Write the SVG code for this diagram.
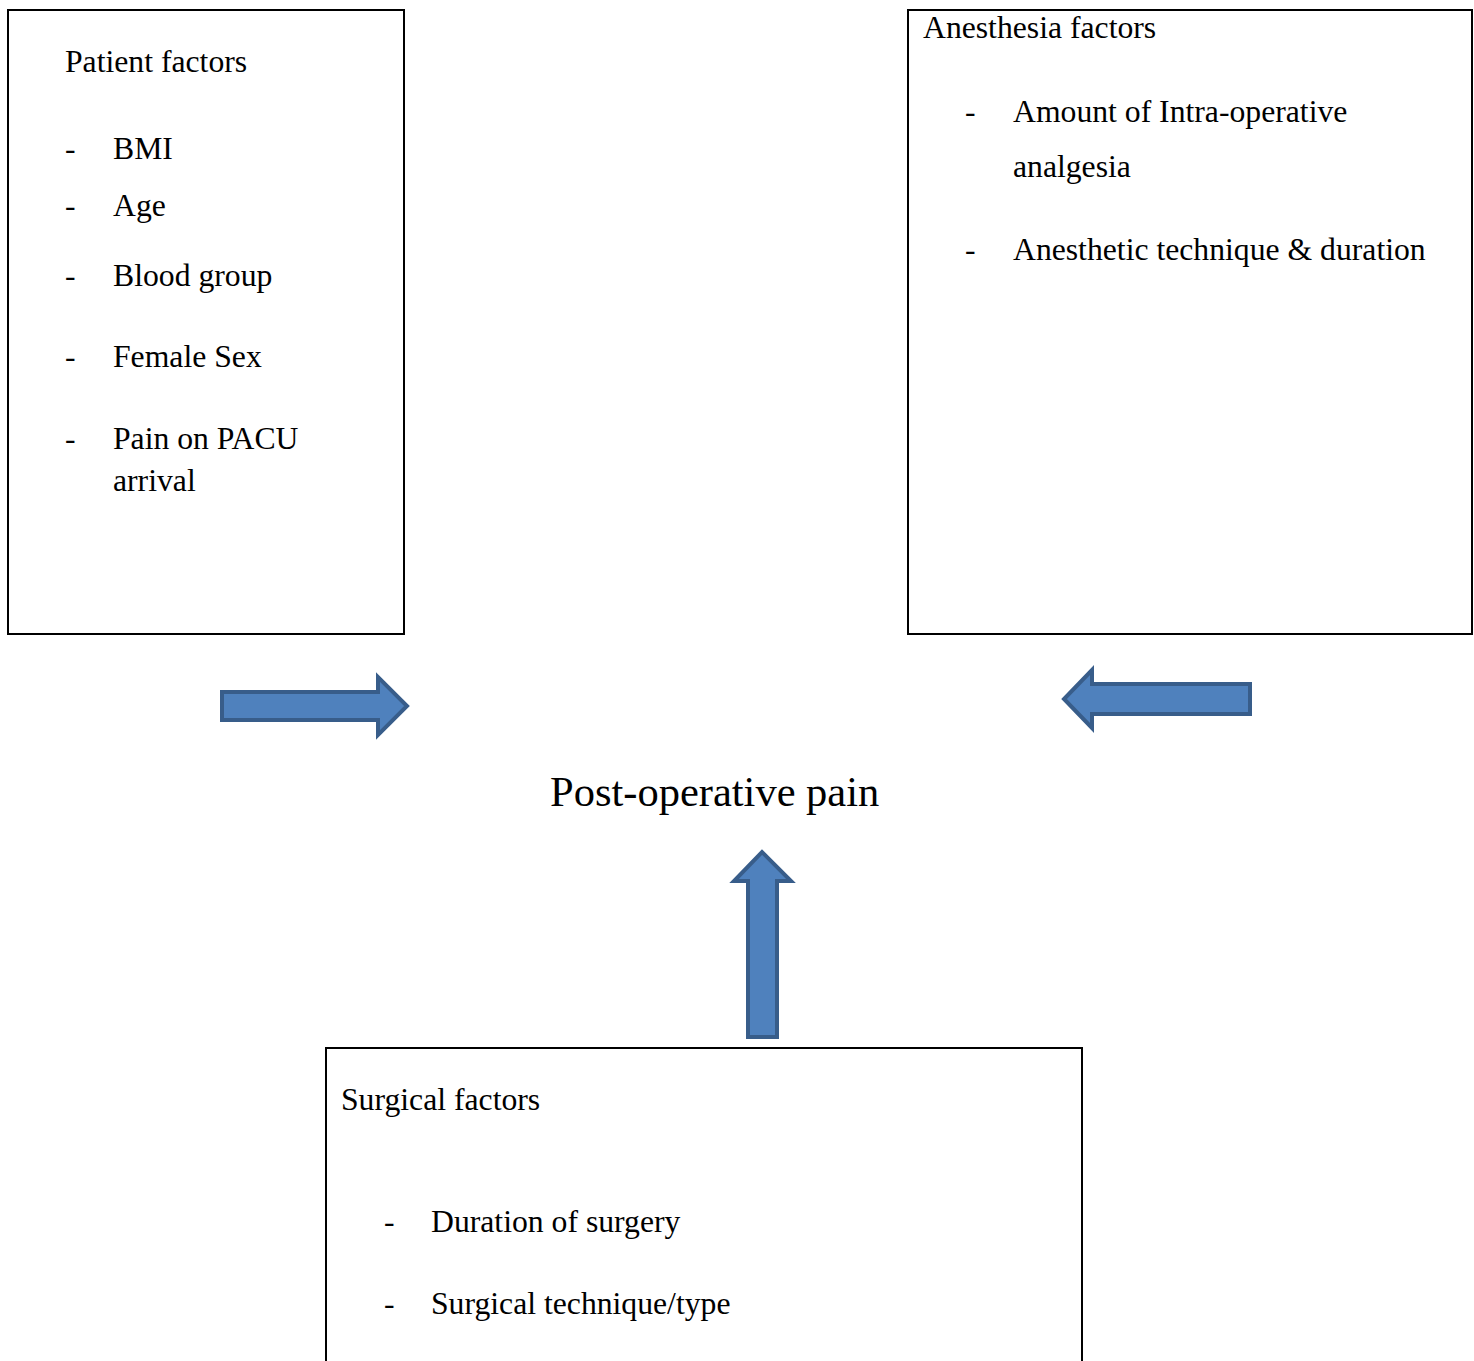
<svg xmlns="http://www.w3.org/2000/svg" width="1474" height="1361" viewBox="0 0 1474 1361">
<style>
.box{fill:#fff;stroke:#000;stroke-width:2}
text{font-family:"Liberation Serif","Times New Roman",serif;font-size:31.7px;fill:#000}
.big{font-size:42.5px}
.arr{fill:#4F81BD;stroke:#385D8A;stroke-width:4;stroke-linejoin:miter}
</style>
<rect width="1474" height="1361" fill="#fff"/>
<g id="patient">
<rect class="box" x="8" y="10" width="396" height="624"/>
<text x="65" y="72">Patient factors</text>
<text x="65" y="159">-</text><text x="113" y="159">BMI</text>
<text x="65" y="216">-</text><text x="113" y="216">Age</text>
<text x="65" y="286">-</text><text x="113" y="286">Blood group</text>
<text x="65" y="367">-</text><text x="113" y="367">Female Sex</text>
<text x="65" y="449">-</text><text x="113" y="449">Pain on PACU</text>
<text x="113" y="491">arrival</text>
</g>
<g id="anesthesia">
<rect class="box" x="908" y="10" width="564" height="624"/>
<text x="923" y="38">Anesthesia factors</text>
<text x="965" y="122">-</text><text x="1013" y="122">Amount of Intra-operative</text>
<text x="1013" y="177">analgesia</text>
<text x="965" y="260">-</text><text x="1013" y="260">Anesthetic technique &amp; duration</text>
</g>
<g id="surgical">
<rect class="box" x="326" y="1048" width="756" height="330"/>
<text x="341" y="1110">Surgical factors</text>
<text x="384" y="1232">-</text><text x="431" y="1232">Duration of surgery</text>
<text x="384" y="1314">-</text><text x="431" y="1314">Surgical technique/type</text>
</g>
<g id="outcome">
<text class="big" x="550" y="806">Post-operative pain</text>
</g>
<g id="connectors">
<path class="arr" d="M222,692 L378,692 L378,677 L407,706 L378,735 L378,720 L222,720 Z"/>
<path class="arr" d="M1250,684 L1092,684 L1092,670 L1064,699 L1092,728 L1092,714 L1250,714 Z"/>
<path class="arr" d="M748,1037 L748,881 L734,881 L762,852 L791,881 L777,881 L777,1037 Z"/>
</g>
</svg>
